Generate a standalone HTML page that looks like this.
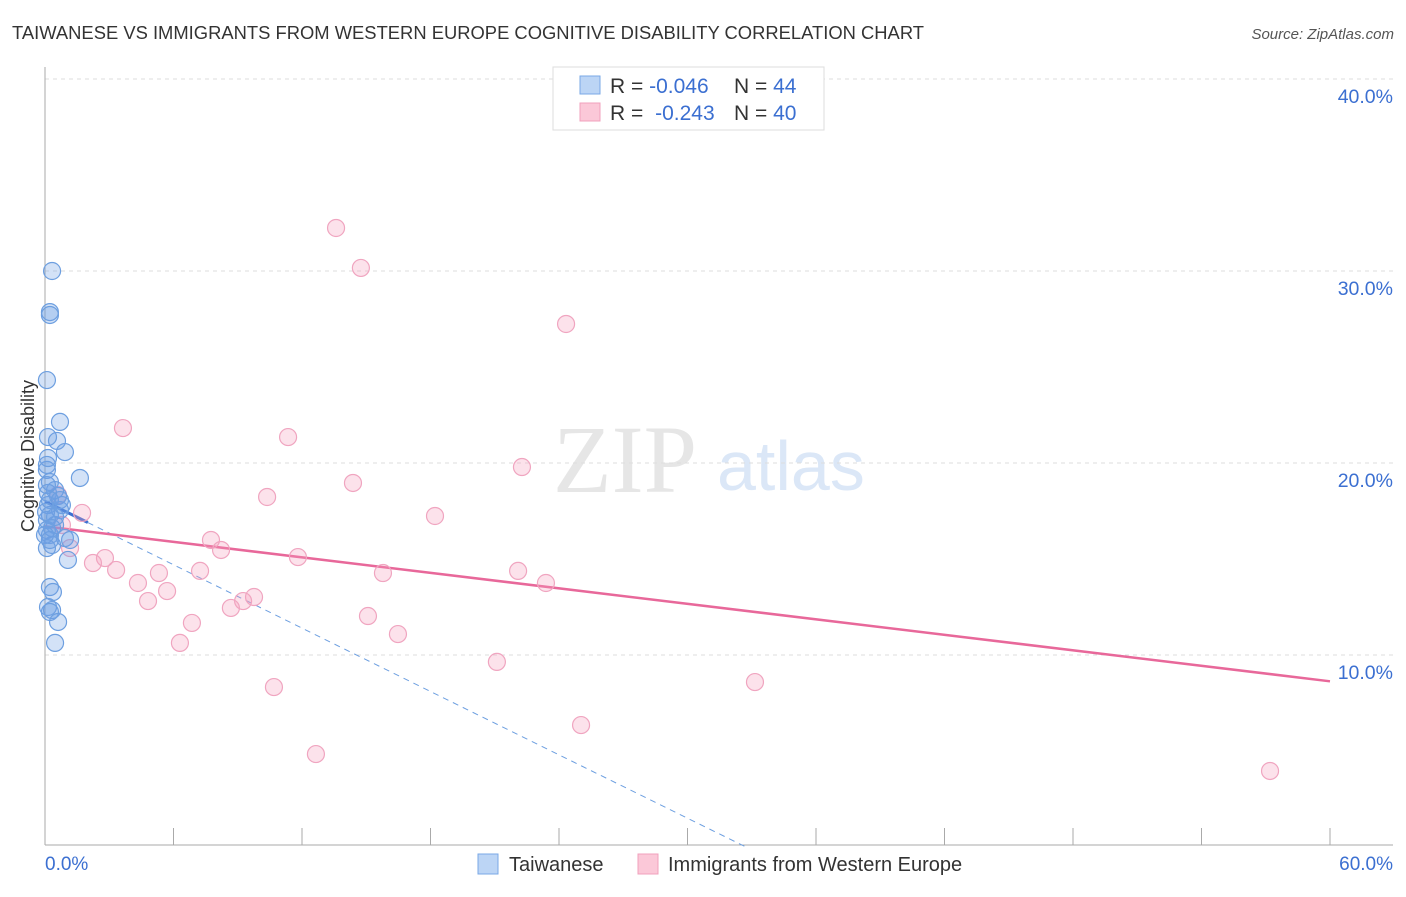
<!DOCTYPE html>
<html><head><meta charset="utf-8"><style>
body{margin:0;background:#fff;font-family:"Liberation Sans",sans-serif;}
svg text{font-family:"Liberation Sans",sans-serif;}
</style></head><body>
<svg id="chart" width="1406" height="892" viewBox="0 0 1406 892">
<text x="12" y="39" font-size="18" fill="#333" textLength="912" lengthAdjust="spacingAndGlyphs">TAIWANESE VS IMMIGRANTS FROM WESTERN EUROPE COGNITIVE DISABILITY CORRELATION CHART</text>
<text x="1394" y="39" font-size="15" fill="#555" font-style="italic" text-anchor="end">Source: ZipAtlas.com</text>
<g>
<text x="553" y="492" font-size="96" fill="#e6e6e6" font-family="Liberation Serif" style="font-family:'Liberation Serif',serif">ZIP</text>
<text x="717" y="490" font-size="70" fill="#dbe7f7">atlas</text>
</g>
<g id="grid"></g>
<g id="axes"></g>
<g id="trend"></g>
<g id="pts"></g>
<text transform="translate(34,456) rotate(-90)" font-size="18" fill="#333" text-anchor="middle">Cognitive Disability</text>
<text x="45" y="870" font-size="19" fill="#3b6fd1">0.0%</text>
<text x="1393" y="870" font-size="19" fill="#3b6fd1" text-anchor="end">60.0%</text>
<g>
<rect x="553" y="67" width="271" height="63" fill="#fff" stroke="#ddd"/>
<rect x="580" y="76" width="20" height="18" fill="#bcd5f5" stroke="#7aa8e6"/>
<rect x="580" y="103" width="20" height="18" fill="#fbc8d8" stroke="#f0a0bc"/>
<text x="610" y="93" font-size="21" fill="#333">R = <tspan fill="#3b6fd1">-0.046</tspan></text>
<text x="734" y="93" font-size="21" fill="#333">N = <tspan fill="#3b6fd1">44</tspan></text>
<text x="610" y="120" font-size="21" fill="#333">R = <tspan fill="#3b6fd1" dx="6">-0.243</tspan></text>
<text x="734" y="120" font-size="21" fill="#333">N = <tspan fill="#3b6fd1">40</tspan></text>
</g>
<g>
<rect x="478" y="854" width="20" height="20" fill="#bcd5f5" stroke="#7aa8e6"/>
<text x="509" y="871" font-size="20" fill="#333">Taiwanese</text>
<rect x="638" y="854" width="20" height="20" fill="#fbc8d8" stroke="#f0a0bc"/>
<text x="668" y="871" font-size="20" fill="#333">Immigrants from Western Europe</text>
</g>
</svg>
<script>
const yTicks=[10,20,30,40];
const yTickLabels=["10.0%","20.0%","30.0%","40.0%"];
const blueX=[0.33,0.23,0.23,0.09,0.70,0.56,0.14,0.93,1.63,0.09,0.09,0.23,0.47,0.14,0.61,0.14,0.70,0.23,0.09,0.47,0.09,0.23,0.93,1.17,0.33,0.09,1.07,0.23,0.37,0.14,0.33,0.23,0.61,0.47,0.23,0.05,0.33,0.70,0.09,0.47,0.79,0.0,0.14,0.23];
const blueY=[30.0,27.86,27.71,24.32,22.14,21.15,21.35,20.57,19.22,19.90,19.64,19.01,18.59,18.44,18.28,17.81,17.55,17.29,17.03,16.77,16.51,16.25,16.09,15.99,15.73,15.57,14.95,13.54,13.28,12.50,12.34,12.24,11.72,10.63,18.07,17.45,16.61,18.07,18.85,17.19,17.81,16.25,20.26,15.99];
const pinkX=[13.59,14.75,24.33,3.64,11.35,22.27,14.38,10.37,18.21,1.73,0.79,1.17,2.80,2.24,3.32,7.75,8.22,11.81,5.32,7.24,15.78,22.09,23.39,4.34,5.70,4.81,9.76,9.25,8.68,15.08,6.86,16.48,6.30,21.10,33.15,10.69,25.03,12.65,57.20,0.61];
const pinkY=[32.24,30.16,27.24,21.82,21.35,19.79,18.96,18.23,17.24,17.40,16.77,15.57,15.05,14.79,14.43,15.99,15.47,15.10,14.27,14.38,14.27,14.38,13.75,13.75,13.33,12.81,13.02,12.81,12.45,12.03,11.67,11.09,10.63,9.64,8.59,8.33,6.35,4.84,3.96,18.33];
const blueTrend=[18.0,-0.55];
const pinkTrend=[16.7,-0.1345];
const xTicks=[0,6,12,18,24,30,36,42,48,54,60];

const NS="http://www.w3.org/2000/svg";
const xs=v=>45+v*1285/60;
const ys=v=>847-v*19.2;
function mk(tag,attrs,parent){const e=document.createElementNS(NS,tag);for(const k in attrs)e.setAttribute(k,attrs[k]);document.getElementById(parent).appendChild(e);return e;}
yTicks.forEach((t,i)=>{
 const l=mk('line',{x1:45,x2:1393,y1:ys(t),y2:ys(t),stroke:'#ddd','stroke-dasharray':'4,4'},'grid');
 
 
 const tx=mk('text',{x:1393,y:ys(t)+24,'font-size':19.5,fill:'#3b6fd1','text-anchor':'end'},'grid');
 tx.textContent=yTickLabels[i];
 
 
});
const ax=mk('line',{x1:45,x2:1393,y1:845,y2:845,stroke:'#aaa'},'axes');


const ay=mk('line',{x1:45,x2:45,y1:67,y2:845,stroke:'#aaa'},'axes');


xTicks.forEach(t=>{
 const l=mk('line',{x1:xs(t),x2:xs(t),y1:828,y2:845,stroke:'#aaa'},'axes');
 
 
});
function pts(X,Y,fill,stroke,name){
 X.forEach((x,i)=>{
  const c=mk('circle',{cx:xs(x),cy:ys(Y[i]),r:8.5,fill:fill,stroke:stroke,'stroke-width':1.2},'pts');
  
  
 });
}
pts(pinkX,pinkY,'rgba(244,160,190,0.3)','#f0a5c0','immigrants-point');
pts(blueX,blueY,'rgba(110,160,230,0.3)','#6d9fe0','taiwanese-point');
const bEnd=-blueTrend[0]/blueTrend[1];
const bd=mk('line',{x1:xs(2),y1:ys(blueTrend[0]+blueTrend[1]*2),x2:xs(bEnd),y2:ys(0),stroke:'#6d9fe0','stroke-width':1,'stroke-dasharray':'6,5'},'trend');


const bs=mk('line',{x1:xs(0),y1:ys(blueTrend[0]),x2:xs(2),y2:ys(blueTrend[0]+blueTrend[1]*2),stroke:'#3b6fd1','stroke-width':3},'trend');


const pl=mk('line',{x1:xs(0),y1:ys(pinkTrend[0]),x2:xs(60),y2:ys(pinkTrend[0]+pinkTrend[1]*60),stroke:'#e8689a','stroke-width':2.5},'trend');


</script>
</body></html>
